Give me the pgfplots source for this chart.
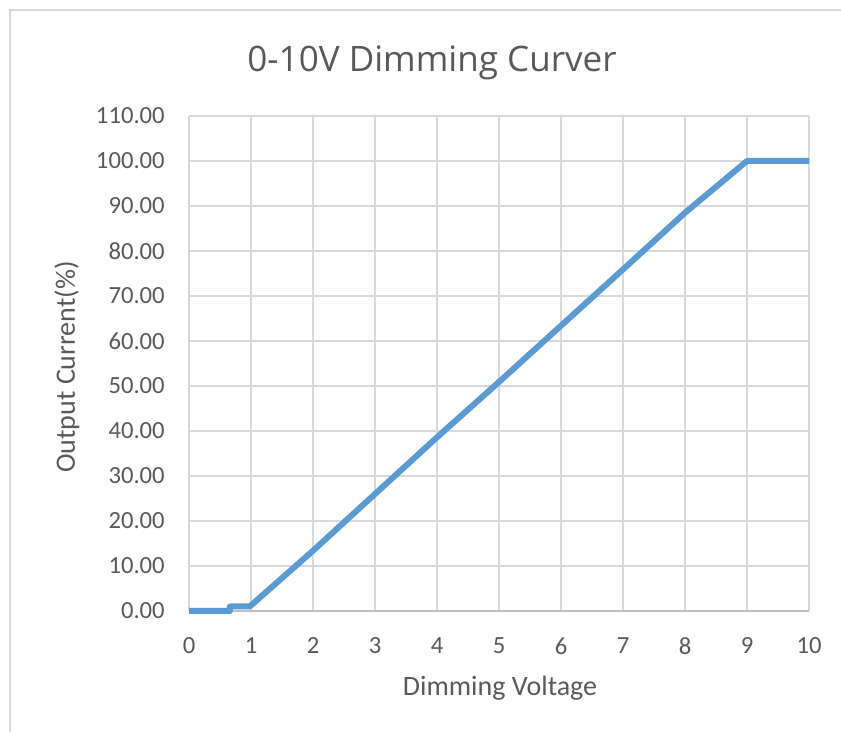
\documentclass[border=0pt]{standalone}
\usepackage{pgfplots}
\pgfplotsset{compat=1.18}
\usepackage{fontspec}
\setmainfont{Carlito}
\newfontfamily\titlefont{Open Sans}
\definecolor{txt}{HTML}{595959}
\definecolor{gridc}{HTML}{D9D9D9}
\definecolor{axc}{HTML}{BFBFBF}
\definecolor{linec}{HTML}{5B9BD5}
\definecolor{framec}{HTML}{D9D9D9}
\begin{document}
\begin{tikzpicture}
\begin{scope}[x=0.75bp,y=0.75bp]
\path[use as bounding box] (0,0) rectangle (841,732);
\draw[framec,line width=1.5bp] (10,0) -- (10,722) -- (841,722);
\node[txt,font=\titlefont\fontsize{26.3bp}{31bp}\selectfont] at (432,669) {0-10V Dimming Curver};
\node[txt,font=\fontsize{21bp}{25bp}\selectfont] at (500,44) {Dimming Voltage};
\node[txt,font=\fontsize{21bp}{25bp}\selectfont,rotate=90] at (67,365) {Output Current(\%)};
\end{scope}
\begin{axis}[
  at={(141.75bp,90.75bp)}, anchor=south west,
  scale only axis, width=465bp, height=371.25bp,
  xmin=0, xmax=10, ymin=0, ymax=110,
  xtick={0,1,...,10}, ytick={0,10,...,110},
  grid=major, grid style={gridc, line width=1.2bp},
  axis line style={draw=none},
  major tick length=0pt,
  clip=false,
  ticklabel style={txt, font=\fontsize{18.5bp}{22bp}\selectfont},
  /pgf/number format/assume math mode=true,
  yticklabel style={/pgf/number format/fixed, /pgf/number format/fixed zerofill, /pgf/number format/precision=2, inner sep=0pt, xshift=-18bp},
  xticklabel style={inner sep=0pt, yshift=-20bp},
]
\draw[axc, line width=1.2bp] (axis cs:0,0) -- (axis cs:10,0);
\addplot[linec, line width=4.5bp, line join=round] coordinates {
(0,0) (0.66,0) (0.66,1) (0.98,1) (2,13.4) (3,26) (4,38.6) (5,50.9) (6,63.4) (7,75.9) (8,88.5) (9,100) (10,100)
};
\end{axis}
\end{tikzpicture}
\end{document}
